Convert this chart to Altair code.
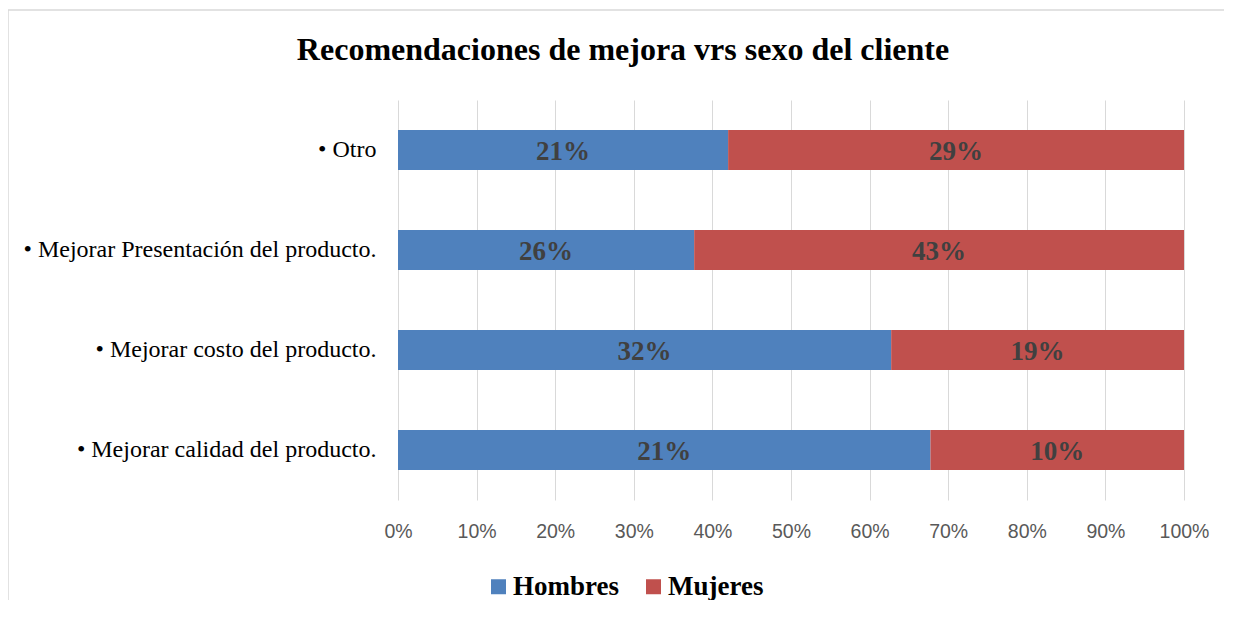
import altair as alt
import pandas as pd

title_text = "Recomendaciones de mejora vrs sexo del cliente"
categories = ["• Otro", "• Mejorar Presentación del producto.", "• Mejorar costo del producto.", "• Mejorar calidad del producto."]
hombres = [21, 26, 32, 21]
mujeres = [29, 43, 19, 10]
series = ["Hombres", "Mujeres"]
colors = ["#4F81BD", "#C0504D"]
x_ticks = [0, 0.1, 0.2, 0.3, 0.4, 0.5, 0.6, 0.7, 0.8, 0.9, 1.0]

rows = []
for c, h, m in zip(categories, hombres, mujeres):
    rows.append({"cat": c, "serie": "Hombres", "value": h, "ord": 0, "label": f"{h}%"})
    rows.append({"cat": c, "serie": "Mujeres", "value": m, "ord": 1, "label": f"{m}%"})
df = pd.DataFrame(rows)

base = alt.Chart(df).transform_stack(
    stack="value", groupby=["cat"], as_=["v0", "v1"], offset="normalize",
    sort=[alt.SortField("ord", order="ascending")]
).transform_calculate(mid="(datum.v0 + datum.v1) / 2")

yenc = alt.Y("cat:N", sort=categories, title=None,
             scale=alt.Scale(paddingInner=0.6, paddingOuter=0.3),
             axis=alt.Axis(domain=False, ticks=False, labelFont="Liberation Serif",
                           labelFontSize=24, labelColor="#000000", labelPadding=22,
                           labelLimit=400))

bars = base.mark_bar().encode(
    x=alt.X("v0:Q", scale=alt.Scale(domain=[0, 1]), title=None,
            axis=alt.Axis(values=x_ticks, format=".0%", domain=False, ticks=False,
                          grid=True, gridColor="#D9D9D9", labelFont="Liberation Sans",
                          labelFontSize=19.5, labelColor="#595959", labelPadding=22,
                          labelFlush=False)),
    x2="v1:Q",
    y=yenc,
    color=alt.Color("serie:N", scale=alt.Scale(domain=series, range=colors), title=None,
                    legend=alt.Legend(orient="none", direction="horizontal",
                                      legendX=87, legendY=473,
                                      symbolType="square", symbolSize=225,
                                      symbolStrokeWidth=0,
                                      labelFont="Liberation Serif", labelFontSize=27,
                                      labelFontWeight="bold", labelColor="#000000",
                                      columnPadding=21, labelOffset=1)),
)

texts = base.mark_text(font="Liberation Serif", fontSize=27, fontWeight="bold",
                       color="#404040", baseline="middle", dy=2).encode(
    x="mid:Q",
    y=alt.Y("cat:N", sort=categories),
    text="label:N",
)

title = alt.Chart(pd.DataFrame({"t": [title_text]})).mark_text(
    font="Liberation Serif", fontSize=32, fontWeight="bold", color="#000000",
    baseline="middle", align="center", clip=False
).encode(x=alt.value(225), y=alt.value(-50), text="t:N")

border = alt.Chart(pd.DataFrame({"a": [0]})).mark_rect(
    fill=None, stroke="#D9D9D9", strokeWidth=1.5, clip=False
).encode(x=alt.value(-390), x2=alt.value(834), y=alt.value(-90), y2=alt.value(530))

chart = alt.layer(border, bars, texts, title).properties(
    width=786, height=400,
    autosize=alt.AutoSizeParams(type="none"),
    padding={"left": 390, "top": 92, "right": 40, "bottom": 100},
).configure_view(stroke=None)

chart.save("out.html", embed_options={"renderer": "svg", "actions": False})
